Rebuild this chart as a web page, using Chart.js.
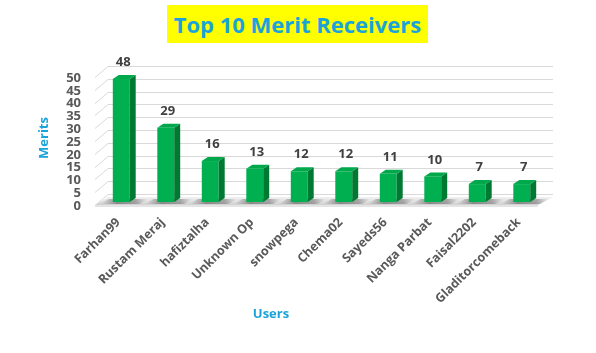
<!DOCTYPE html>
<html>
<head>
<meta charset="utf-8">
<script src="https://cdn.jsdelivr.net/npm/chart.js@4.4.1/dist/chart.umd.min.js"></script>
<style>
    html, body { margin: 0; padding: 0; background: #fff; }
    #wrap { position: relative; width: 596px; height: 353px; }
    #title {
        position: absolute; left: 167px; top: 5px; width: 261px; height: 38px;
        background: #ffff00; color: #1aa3db; font: bold 22px "Open Sans", sans-serif;
        text-align: center; line-height: 38px;
    }
    #xtitle {
        position: absolute; left: 241px; top: 303px; width: 60px; text-align: center;
        color: #1aa3db; font: bold 13px "Open Sans", sans-serif; line-height: 20px;
    }
</style>
</head>
<body>
<div id="wrap">
    <canvas id="chart" width="596" height="353"></canvas>
    <div id="title">Top 10 Merit Receivers</div>
    <div id="xtitle">Users</div>
</div>
<script>
// --------------------- Data -------------------
const users = ['Farhan99', 'Rustam Meraj', 'hafiztalha', 'Unknown Op', 'snowpega',
    'Chema02', 'Sayeds56', 'Nanga Parbat', 'Faisal2202', 'Gladitorcomeback'];
const merits = [48, 29, 16, 13, 12, 12, 11, 10, 7, 7];
const yTicks = [0, 5, 10, 15, 20, 25, 30, 35, 40, 45, 50];

// depth of the fake 3D look
const wallDx = 13, wallDy = -8;
const barDx = 6, barDy = -4;

// --------------------- 3D plugin -------------------
const threeD = {
    id: 'threeD',
    beforeDatasetsDraw(chart) {
        const ctx = chart.ctx;
        const area = chart.chartArea;
        const y = chart.scales.y;
        const L = area.left - 4;
        const R = 553;
        ctx.save();
        // back wall gridlines + side wall diagonals
        ctx.strokeStyle = '#d9d9d9';
        ctx.lineWidth = 1;
        yTicks.forEach(v => {
            const py = Math.round(y.getPixelForValue(v)) + 0.5;
            ctx.beginPath();
            ctx.moveTo(L, py + 3);
            ctx.lineTo(L + wallDx, py + wallDy);
            ctx.lineTo(R, py + wallDy);
            ctx.stroke();
        });
        // floor
        const fy = y.getPixelForValue(0) + 3;
        const grad = ctx.createLinearGradient(0, fy + wallDy, 0, fy);
        grad.addColorStop(0, '#f2f2f2');
        grad.addColorStop(1, '#d0d0d0');
        ctx.fillStyle = grad;
        ctx.beginPath();
        ctx.moveTo(L, fy);
        ctx.lineTo(R - wallDx - 2, fy);
        ctx.lineTo(R, fy + wallDy);
        ctx.lineTo(L + wallDx, fy + wallDy);
        ctx.closePath();
        ctx.fill();
        ctx.fillStyle = '#e4e4e4';
        ctx.fillRect(L, fy, R - wallDx - 2 - L, 2);
        // shadows behind bars
        const meta = chart.getDatasetMeta(0);
        meta.data.forEach(bar => {
            const w = bar.width;
            const x0 = bar.x - w / 2;
            const sg = ctx.createLinearGradient(x0 - 12, 0, x0 + w + 18, 0);
            sg.addColorStop(0, 'rgba(90,90,90,0)');
            sg.addColorStop(0.35, 'rgba(70,70,70,0.55)');
            sg.addColorStop(0.75, 'rgba(90,90,90,0.45)');
            sg.addColorStop(1, 'rgba(120,120,120,0)');
            ctx.fillStyle = sg;
            ctx.beginPath();
            ctx.moveTo(x0 - 12, fy - 1);
            ctx.lineTo(x0 + w + 10, fy - 1);
            ctx.lineTo(x0 + w + 18, fy + wallDy + 2);
            ctx.lineTo(x0 - 4, fy + wallDy + 2);
            ctx.closePath();
            ctx.fill();
        });
        ctx.restore();
    },
    afterDatasetsDraw(chart) {
        const ctx = chart.ctx;
        const meta = chart.getDatasetMeta(0);
        ctx.save();
        meta.data.forEach((bar, i) => {
            const w = bar.width;
            const x0 = bar.x - w / 2, x1 = bar.x + w / 2;
            const top = bar.y, bottom = bar.base;
            // side face
            ctx.fillStyle = '#007a33';
            ctx.beginPath();
            ctx.moveTo(x1, top);
            ctx.lineTo(x1 + barDx, top + barDy);
            ctx.lineTo(x1 + barDx, bottom + barDy);
            ctx.lineTo(x1, bottom);
            ctx.closePath();
            ctx.fill();
            // top face
            ctx.fillStyle = '#00a84c';
            ctx.beginPath();
            ctx.moveTo(x0, top);
            ctx.lineTo(x0 + barDx, top + barDy);
            ctx.lineTo(x1 + barDx, top + barDy);
            ctx.lineTo(x1, top);
            ctx.closePath();
            ctx.fill();
            // value label
            ctx.fillStyle = '#404040';
            ctx.font = 'bold 13px "Open Sans", sans-serif';
            ctx.textAlign = 'center';
            ctx.textBaseline = 'bottom';
            ctx.fillText(String(merits[i]), bar.x + 2, top + barDy - 6);
        });
        ctx.restore();
    }
};

// --------------------- Chart -------------------
const ctx = document.getElementById('chart').getContext('2d');
const chart = new Chart(ctx, {
    type: 'bar',
    data: {
        labels: users,
        datasets: [{
            data: merits,
            backgroundColor: '#00b050',
            borderWidth: 0,
            categoryPercentage: 1,
            barPercentage: 0.38
        }]
    },
    options: {
        responsive: false,
        animation: false,
        layout: { padding: { left: 36, right: 52, top: 74, bottom: 31 } },
        plugins: {
            legend: { display: false },
            tooltip: { enabled: false }
        },
        scales: {
            x: {
                grid: { display: false, drawTicks: false },
                border: { display: false },
                ticks: {
                    color: '#595959',
                    font: { family: 'Open Sans', size: 12.5, weight: 'bold' },
                    maxRotation: 45,
                    minRotation: 45,
                    autoSkip: false,
                    padding: 13,
                    labelOffset: -3
                },
                afterFit(scale) { scale.height = 120; }
            },
            y: {
                min: 0,
                max: 50,
                grid: { display: false, drawTicks: false },
                border: { display: false },
                ticks: {
                    stepSize: 5,
                    autoSkip: false,
                    color: '#595959',
                    font: { family: 'Open Sans', size: 13, weight: 'bold' },
                    padding: 18,
                    labelOffset: 4
                },
                title: {
                    display: true,
                    text: 'Merits',
                    color: '#1aa3db',
                    font: { family: 'Open Sans', size: 13, weight: 'bold' },
                    padding: 0
                },
                afterFit(scale) { scale.width = 63; }
            }
        }
    },
    plugins: [threeD]
});
</script>
</body>
</html>
